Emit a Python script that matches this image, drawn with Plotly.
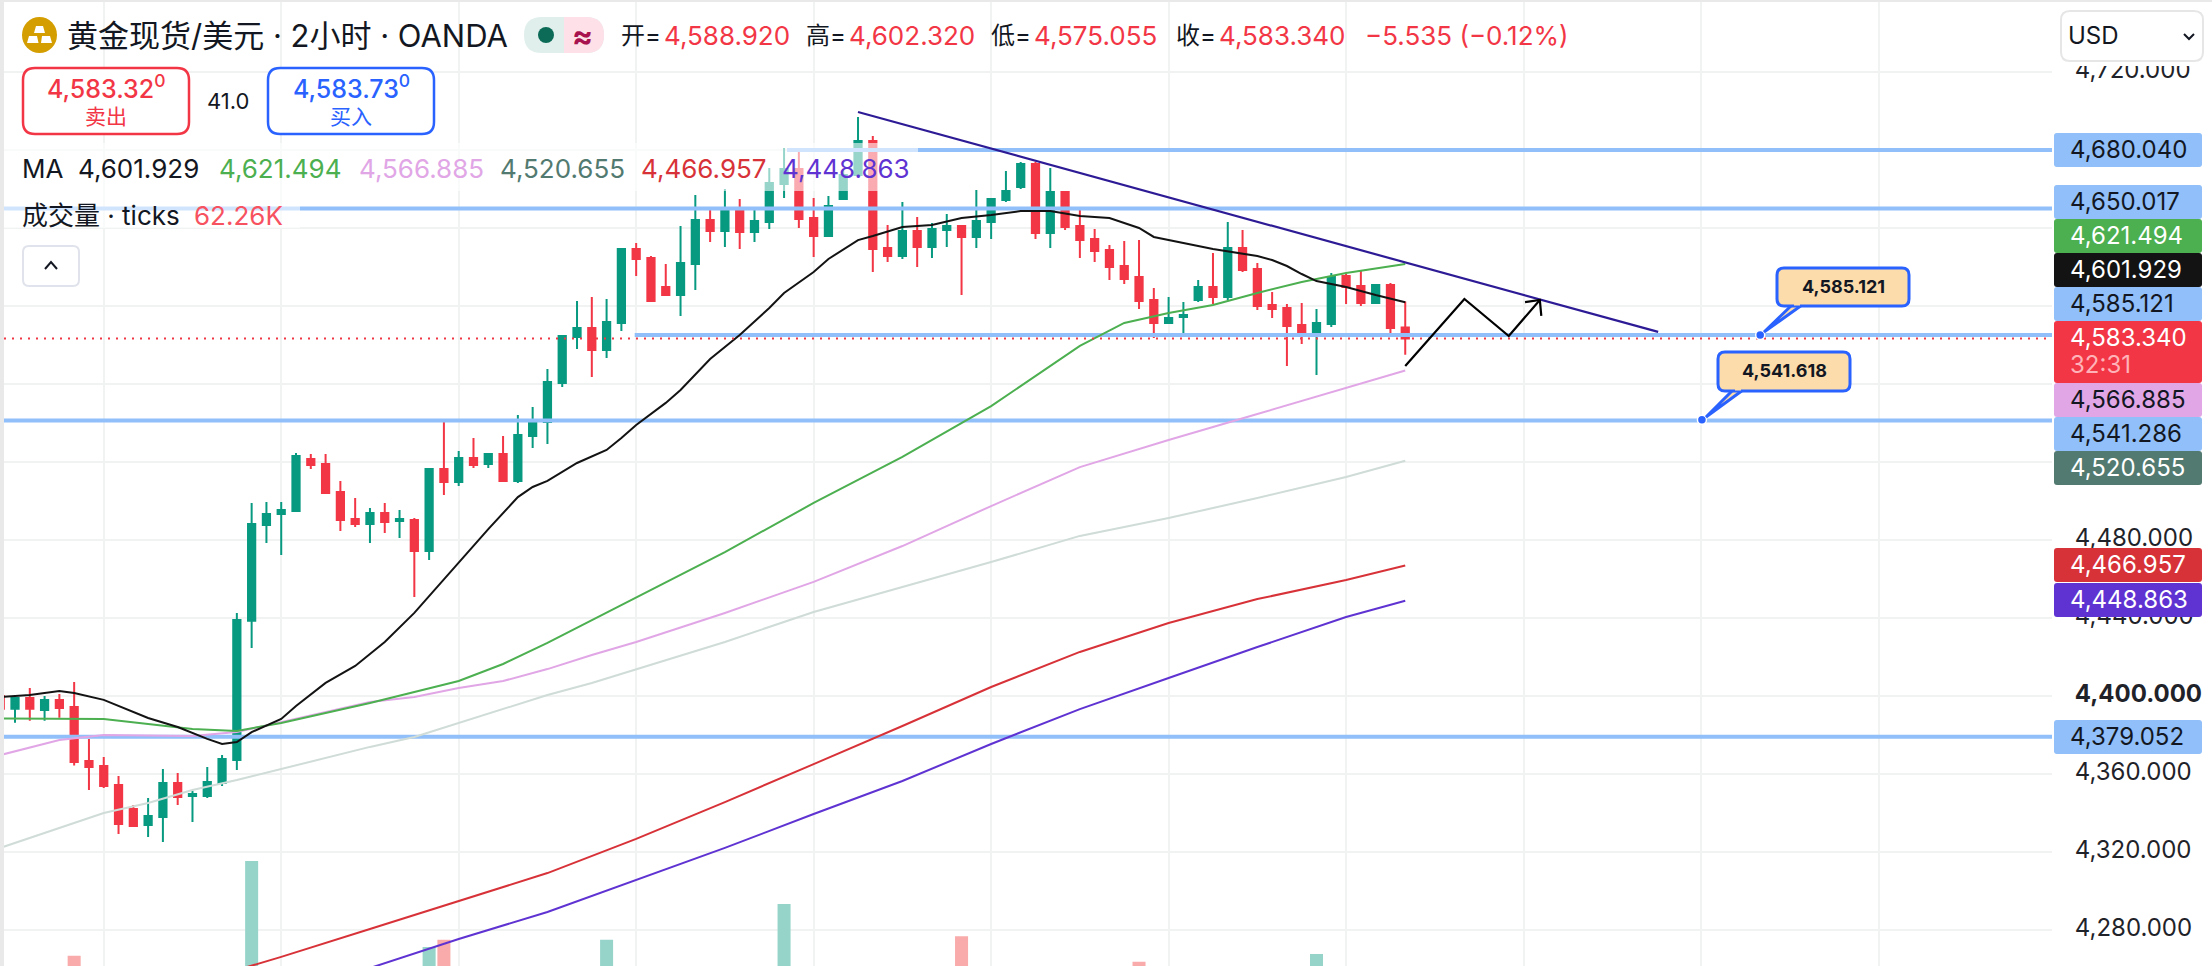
import plotly.graph_objects as go

W, H = 2212, 966

# candles, index -1 is the one clipped at the left edge
candle_idx = list(range(-1, 95))
opens = [4400.0, 4393.5, 4399.0, 4392.8, 4398.0, 4394.4, 4366.7, 4364.1, 4354.4, 4342.1, 4333.9, 4338.0,
         4355.4, 4348.7, 4348.7, 4355.4, 4367.2, 4438.6, 4487.7, 4493.3, 4494.9, 4521.5, 4519.0, 4504.6,
         4490.8, 4488.2, 4493.8, 4489.7, 4490.3, 4474.4, 4516.4, 4509.7, 4522.0, 4519.0, 4524.1, 4510.3,
         4533.3, 4540.5, 4560.5, 4584.1, 4588.7, 4577.4, 4591.3, 4629.2, 4624.6, 4609.7, 4605.6, 4621.5,
         4644.1, 4638.5, 4650.2, 4637.9, 4643.1, 4662.6, 4670.2, 4645.1, 4635.9, 4654.9, 4667.2, 4684.6,
         4629.7, 4625.6, 4638.5, 4630.3, 4639.0, 4641.0, 4635.4, 4643.1, 4654.4, 4661.0, 4672.8, 4637.4,
         4658.5, 4641.0, 4634.4, 4628.7, 4620.5, 4614.9, 4603.1, 4591.3, 4594.4, 4603.1, 4609.7, 4604.6,
         4629.7, 4619.0, 4600.5, 4599.0, 4590.3, 4585.6, 4590.8, 4615.4, 4610.3, 4601.5, 4610.8, 4588.92]
highs = [4403.0, 4400.5, 4404.1, 4400.0, 4401.0, 4407.2, 4378.0, 4368.7, 4359.0, 4344.1, 4347.7, 4362.6,
         4360.5, 4351.3, 4363.6, 4369.7, 4442.6, 4499.0, 4499.5, 4499.5, 4524.6, 4524.1, 4524.1, 4510.3,
         4501.5, 4496.4, 4499.0, 4495.4, 4491.3, 4516.4, 4541.0, 4525.6, 4532.3, 4524.6, 4533.3, 4544.1,
         4548.2, 4567.7, 4585.1, 4602.6, 4604.6, 4603.6, 4629.2, 4632.3, 4625.6, 4621.5, 4641.0, 4656.9,
         4650.2, 4660.0, 4654.9, 4650.2, 4670.8, 4681.0, 4680.0, 4655.4, 4656.4, 4669.7, 4696.9, 4687.2,
         4641.5, 4653.3, 4645.6, 4642.6, 4647.2, 4641.5, 4659.5, 4655.4, 4669.2, 4673.8, 4673.8, 4670.8,
         4659.0, 4649.7, 4639.5, 4631.3, 4633.3, 4633.8, 4609.2, 4604.6, 4602.0, 4613.3, 4627.2, 4643.1,
         4639.0, 4622.0, 4607.2, 4601.0, 4601.5, 4598.5, 4616.9, 4616.4, 4617.9, 4610.8, 4611.8, 4602.32]
lows = [4391.8, 4386.3, 4387.3, 4387.3, 4388.9, 4364.3, 4351.8, 4352.8, 4329.2, 4332.8, 4327.7, 4325.1,
        4344.1, 4335.4, 4347.7, 4353.9, 4362.1, 4424.6, 4478.5, 4472.3, 4494.9, 4516.4, 4504.1, 4484.6,
        4486.7, 4478.5, 4483.6, 4481.0, 4450.8, 4469.7, 4503.1, 4507.7, 4516.9, 4516.9, 4509.7, 4509.2,
        4527.2, 4529.2, 4558.5, 4577.9, 4563.6, 4573.3, 4587.2, 4615.4, 4602.6, 4605.6, 4594.9, 4608.2,
        4632.8, 4630.3, 4629.2, 4632.8, 4639.5, 4655.4, 4640.0, 4625.1, 4635.9, 4654.9, 4667.2, 4617.4,
        4622.6, 4624.1, 4620.0, 4624.6, 4630.3, 4605.6, 4629.7, 4634.4, 4653.3, 4660.0, 4634.4, 4629.7,
        4639.0, 4624.6, 4622.6, 4613.3, 4611.3, 4598.5, 4583.6, 4590.8, 4584.1, 4602.0, 4601.0, 4603.1,
        4617.4, 4597.9, 4593.8, 4569.2, 4580.5, 4564.6, 4589.2, 4601.0, 4600.0, 4601.0, 4586.2, 4575.055]
closes = [4393.5, 4399.0, 4393.5, 4398.0, 4393.8, 4366.2, 4363.6, 4353.9, 4334.4, 4333.3, 4338.5, 4355.4,
          4348.2, 4349.7, 4355.9, 4367.7, 4439.0, 4488.2, 4493.3, 4495.4, 4523.1, 4518.5, 4504.1, 4490.3,
          4488.2, 4493.8, 4489.2, 4490.8, 4474.4, 4516.4, 4509.7, 4522.0, 4518.5, 4524.1, 4510.3, 4533.8,
          4541.0, 4561.0, 4584.6, 4588.7, 4577.4, 4591.8, 4629.2, 4624.1, 4602.6, 4605.6, 4622.0, 4644.1,
          4638.5, 4650.2, 4637.9, 4643.6, 4663.1, 4670.2, 4644.6, 4635.9, 4651.3, 4667.2, 4684.6, 4629.2,
          4625.6, 4638.5, 4630.3, 4639.5, 4641.0, 4635.4, 4643.6, 4654.9, 4659.0, 4672.8, 4637.4, 4658.5,
          4640.5, 4633.8, 4628.2, 4620.0, 4613.8, 4602.6, 4591.3, 4593.8, 4595.4, 4609.7, 4604.6, 4629.7,
          4618.5, 4600.0, 4598.5, 4589.7, 4585.6, 4591.3, 4614.9, 4609.7, 4601.5, 4610.8, 4588.7, 4583.34]

# volume, only the bars tall enough to show above the bottom edge
vol_idx = [4, 16, 28, 29, 40, 52, 64, 76, 88]
vol_values = [141, 300, 156, 168, 168, 228, 174, 131, 144]
vol_up = [False, True, True, False, True, True, False, False, True]

# moving averages
ma1_idx = [-1, 1, 3, 4, 6, 9, 11, 13, 14, 15, 16, 18, 19, 21, 23, 25, 27, 30, 32, 34, 35, 36, 38, 40, 41, 42,
           44, 45, 47, 49, 51, 52, 54, 55, 57, 58, 60, 62, 64, 66, 68, 70, 72, 74, 76, 77, 79, 81, 84, 85, 86,
           87, 88, 90, 92, 94]
ma1 = [4399.5, 4400.5, 4402.6, 4401.5, 4398.0, 4388.7, 4384.1, 4378.0, 4375.4, 4376.4, 4381.5, 4388.2, 4394.9,
       4406.7, 4415.4, 4427.7, 4442.6, 4468.2, 4485.6, 4502.0, 4507.2, 4510.3, 4519.5, 4526.2, 4532.3, 4539.0,
       4550.3, 4556.9, 4572.8, 4585.1, 4599.0, 4606.7, 4617.4, 4624.1, 4633.8, 4635.9, 4640.5, 4641.5, 4645.1,
       4646.7, 4648.7, 4648.7, 4646.1, 4645.1, 4640.0, 4635.4, 4632.3, 4629.2, 4625.6, 4623.6, 4620.5, 4616.4,
       4612.8, 4609.7, 4605.6, 4601.929]
ma2_idx = [-1, 6, 12, 15, 18, 24, 30, 33, 36, 42, 48, 54, 60, 66, 72, 75, 78, 81, 84, 87, 90, 94]
ma2 = [4388.5, 4388.2, 4383.1, 4382.1, 4386.2, 4396.4, 4407.7, 4416.4, 4427.2, 4450.3, 4473.8, 4499.0, 4522.6,
       4548.7, 4579.5, 4591.3, 4596.4, 4600.5, 4606.7, 4612.3, 4616.9, 4621.494]
ma3_idx = [-1, 3, 6, 12, 15, 18, 24, 27, 30, 33, 36, 39, 42, 48, 54, 60, 66, 72, 78, 84, 90, 94]
ma3 = [4369.7, 4377.4, 4380.0, 4379.5, 4381.5, 4386.7, 4396.9, 4399.5, 4404.1, 4407.7, 4413.8, 4421.0, 4427.7,
       4442.6, 4458.5, 4476.9, 4497.4, 4517.4, 4531.3, 4544.6, 4557.9, 4566.885]
ma4_idx = [-1, 3, 6, 9, 12, 15, 18, 24, 27, 30, 33, 36, 39, 42, 48, 54, 60, 66, 72, 78, 84, 90, 94]
ma4 = [4322.1, 4332.3, 4340.0, 4345.1, 4351.8, 4356.9, 4362.6, 4373.9, 4379.0, 4386.2, 4393.3, 4400.5, 4406.7,
       4413.8, 4427.7, 4443.1, 4455.9, 4468.7, 4482.1, 4491.3, 4501.5, 4512.3, 4520.655]
ma5_idx = [15, 18, 24, 30, 36, 42, 48, 54, 60, 66, 72, 78, 84, 90, 94]
ma5 = [4259.5, 4266.2, 4280.5, 4294.9, 4309.2, 4326.7, 4345.6, 4365.1, 4384.6, 4404.6, 4422.6, 4437.4, 4449.7,
       4459.5, 4466.957]
ma6_idx = [24, 30, 36, 42, 48, 54, 60, 66, 72, 78, 84, 90, 94]
ma6 = [4260.5, 4275.4, 4289.2, 4305.6, 4322.1, 4339.5, 4356.4, 4375.4, 4393.3, 4409.2, 4425.1, 4440.5, 4448.863]
ma_colors = ['#131313', '#4caf50', '#e1a6e6', '#cfdcd7', '#d83239', '#5f33d2']
ma_labels = ['4,601.929', '4,621.494', '4,566.885', '4,520.655', '4,466.957', '4,448.863']
ma_text_colors = ['#131722', '#4caf50', '#e1a6e6', '#527a70', '#d83239', '#5f33d2']

# drawings
hline_prices = [4680.04, 4650.017, 4585.121, 4541.286, 4379.052]
hline_starts = [52.2, -2, 41.9, -2, -2]
trend_idx = [57, 111.1]
trend_prices = [4699.5, 4586.7]
path_idx = [94, 98, 101, 103.1]
path_prices = [4569.2, 4603.6, 4584.6, 4603.1]
arrow_idx = [102.1, 103.1, 103.2]
arrow_prices = [4602.0, 4603.1, 4594.9]
callout_idx = [118, 114.06]
callout_prices = [4585.121, 4541.618]
last_price = 4583.34

# gridlines at 4,520 to 4,680 have their labels hidden behind the price tags
price_ticks = [4280, 4320, 4360, 4400, 4440, 4480, 4520, 4560, 4600, 4640, 4680, 4720]
price_tick_text = ['4,280.000', '4,320.000', '4,360.000', '<b>4,400.000</b>', '4,440.000', '4,480.000',
                   '', '', '', '', '', '4,720.000']

# right hand price tags
tag_text = ['4,680.040', '4,650.017', '4,621.494', '4,601.929', '4,585.121', '4,583.340', '4,566.885',
            '4,541.286', '4,520.655', '4,466.957', '4,448.863', '4,379.052']
tag_tops = [133, 185, 219, 253, 287, 321, 383, 417, 451, 548, 583, 720]
tag_fill = ['#90bff9', '#90bff9', '#4caf50', '#131313', '#90bff9', '#f23645', '#e1a6e6', '#90bff9', '#527a70',
            '#d83239', '#5f33d2', '#90bff9']
tag_font = ['#131722', '#131722', '#ffffff', '#ffffff', '#131722', '#ffffff', '#131722', '#131722', '#ffffff',
            '#ffffff', '#ffffff', '#131722']

GREEN = '#089981'
RED = '#f23645'
BLUE = '#2962ff'
LINE_BLUE = '#90bff9'
TEXT = '#131722'
LATIN = 'Inter'
MIXED = 'Inter, "Noto Sans CJK SC"'

LEFT_EDGE = -0.744
RIGHT_EDGE = 137.73


def fx(px):
    return px / W


def fy(py):
    return 1 - py / H


def rrect(x0, y0, x1, y1, r):
    return (f"M {fx(x0 + r)} {fy(y0)} L {fx(x1 - r)} {fy(y0)} Q {fx(x1)} {fy(y0)} {fx(x1)} {fy(y0 + r)} "
            f"L {fx(x1)} {fy(y1 - r)} Q {fx(x1)} {fy(y1)} {fx(x1 - r)} {fy(y1)} "
            f"L {fx(x0 + r)} {fy(y1)} Q {fx(x0)} {fy(y1)} {fx(x0)} {fy(y1 - r)} "
            f"L {fx(x0)} {fy(y0 + r)} Q {fx(x0)} {fy(y0)} {fx(x0 + r)} {fy(y0)} Z")


def poly(points, close=True):
    s = ' L '.join(f"{fx(a)} {fy(b)}" for a, b in points)
    return f"M {s}" + (' Z' if close else '')


shapes = []
notes = []


def box(x0, y0, x1, y1, fill, line='rgba(0,0,0,0)', width=0, r=0):
    shapes.append(dict(type='path', xref='paper', yref='paper', layer='above',
                       path=rrect(x0, y0, x1, y1, r), fillcolor=fill, line=dict(color=line, width=width)))


def stroke(points, color, width=2, fill=None):
    shapes.append(dict(type='path', xref='paper', yref='paper', layer='above',
                       path=poly(points, close=fill is not None), fillcolor=fill or 'rgba(0,0,0,0)',
                       line=dict(color=color, width=width)))


def note(x, y, text, size=26, color=TEXT, family=LATIN, anchor='left', weight=400):
    # annotations sit a couple of pixels right of their anchor
    if anchor == 'left':
        x -= 2
    notes.append(dict(xref='paper', yref='paper', x=fx(x), y=fy(y), text=text, showarrow=False,
                      xanchor=anchor, yanchor='middle', borderpad=0,
                      font=dict(size=size, color=color, family=family, weight=weight)))


fig = go.Figure()

fig.add_trace(go.Bar(x=vol_idx, y=vol_values, width=0.88, yaxis='y', hoverinfo='skip',
                     marker=dict(color=['#96d4ca' if u else '#f9aaaa' for u in vol_up], line=dict(width=0))))

for i, start in enumerate(hline_starts):
    fig.add_trace(go.Scatter(x=[start, RIGHT_EDGE + 1], y=[hline_prices[i]] * 2, yaxis='y2', mode='lines',
                             line=dict(color=LINE_BLUE, width=4), hoverinfo='skip'))

fig.add_trace(go.Candlestick(x=candle_idx, open=opens, high=highs, low=lows, close=closes, yaxis='y2',
                             increasing=dict(line=dict(color=GREEN, width=2), fillcolor=GREEN),
                             decreasing=dict(line=dict(color=RED, width=2), fillcolor=RED),
                             whiskerwidth=0))

ma_x = [ma4_idx, ma3_idx, ma2_idx, ma5_idx, ma6_idx, ma1_idx]
ma_y = [ma4, ma3, ma2, ma5, ma6, ma1]
ma_c = [ma_colors[3], ma_colors[2], ma_colors[1], ma_colors[4], ma_colors[5], ma_colors[0]]
for xs, ys, c in zip(ma_x, ma_y, ma_c):
    fig.add_trace(go.Scatter(x=xs, y=ys, yaxis='y2', mode='lines', line=dict(color=c, width=2),
                             hoverinfo='skip'))

fig.add_trace(go.Scatter(x=[LEFT_EDGE, RIGHT_EDGE], y=[last_price] * 2, yaxis='y2', mode='lines',
                         line=dict(color=RED, width=2, dash='2px,6px'), hoverinfo='skip'))
fig.add_trace(go.Scatter(x=trend_idx, y=trend_prices, yaxis='y2', mode='lines',
                         line=dict(color='#2d1b96', width=2.2), hoverinfo='skip'))
fig.add_trace(go.Scatter(x=path_idx, y=path_prices, yaxis='y2', mode='lines',
                         line=dict(color='#000000', width=2.2), hoverinfo='skip'))
fig.add_trace(go.Scatter(x=arrow_idx, y=arrow_prices, yaxis='y2', mode='lines',
                         line=dict(color='#000000', width=2.2), hoverinfo='skip'))
fig.add_trace(go.Scatter(x=callout_idx, y=callout_prices, yaxis='y2', mode='markers', hoverinfo='skip',
                         marker=dict(size=9, color=BLUE, line=dict(color='#ffffff', width=1.5))))

# washed out strips behind the legend rows
box(4, 143, 918, 191, 'rgba(255,255,255,0.58)')
box(4, 191, 300, 228, 'rgba(255,255,255,0.58)')

# page frame
box(0, 0, 4, H, '#e9e9e9')
box(0, 0, W, 2, '#e9e9e9')

# header
shapes.append(dict(type='circle', xref='paper', yref='paper', layer='above', x0=fx(22), x1=fx(57), y0=fy(53),
                   y1=fy(17), fillcolor='#d49e00', line=dict(width=0)))
stroke([(36, 26), (43, 26), (45, 33), (34, 33)], '#ffffff', 0, '#ffffff')
stroke([(29, 36), (37, 36), (38.5, 43), (27, 43)], '#ffffff', 0, '#ffffff')
stroke([(42, 36), (50, 36), (52, 43), (41, 43)], '#ffffff', 0, '#ffffff')
note(68, 35, '黄金现货/美元 · 2小时 · OANDA', size=31, family=MIXED)
box(524, 17, 604, 53, '#e0efec', r=18)
box(564, 17, 604, 53, '#fde0e8', r=18)
box(564, 17, 584, 53, '#fde0e8')
shapes.append(dict(type='circle', xref='paper', yref='paper', layer='above', x0=fx(538), x1=fx(554), y0=fy(43),
                   y1=fy(27), fillcolor='#0b6b57', line=dict(width=0)))
note(582, 35, '<b>≈</b>', size=31, color='#a8134f', anchor='center')

ohlc_labels = ['开=', '高=', '低=', '收=']
ohlc_values = ['4,588.920', '4,602.320', '4,575.055', '4,583.340']
ohlc_x = [622, 807, 992, 1177]
for lab, val, x in zip(ohlc_labels, ohlc_values, ohlc_x):
    note(x, 36, lab, size=24, family=MIXED)
    note(x + 43, 36, val, size=26, color=RED)
note(1366, 36, '−5.535 (−0.12%)', size=26, color=RED)

# sell / buy buttons
box(23, 68, 189, 134, '#ffffff', RED, 2.5, 12)
box(268, 68, 434, 134, '#ffffff', BLUE, 2.5, 12)
note(106, 87, '4,583.32<sup>0</sup>', size=25, color=RED, anchor='center', weight=500)
note(106, 116, '卖出', size=21, color=RED, family=MIXED, anchor='center')
note(351, 87, '4,583.73<sup>0</sup>', size=25, color=BLUE, anchor='center', weight=500)
note(351, 116, '买入', size=21, color=BLUE, family=MIXED, anchor='center')
note(228, 101, '41.0', size=22, anchor='center')

# legend rows
note(23, 168, 'MA', size=26)
ma_label_x = [79, 220, 360, 501, 642, 783]
for x, t, c in zip(ma_label_x, ma_labels, ma_text_colors):
    note(x, 168, t, size=26, color=c)
note(23, 216, '成交量 · ticks', size=26, family=MIXED)
note(195, 216, '62.26K', size=26, color='#f7525f')
box(23, 246, 79, 286, '#ffffff', '#e0e3eb', 2, 6)
stroke([(45, 269), (51, 262), (57, 269)], '#131722', 2)

# USD selector, the white strip below it cuts the 4,720 label as on the original
box(2054, 61, 2210, 66, '#ffffff')
box(2061, 11, 2203, 61, '#ffffff', '#e6e6e6', 2, 9)
note(2069, 36, 'USD', size=24)
stroke([(2184, 34), (2189, 39), (2194, 34)], '#131722', 2)

# price tags
for t, top, fill, font in zip(tag_text, tag_tops, tag_fill, tag_font):
    bottom = top + (62 if t == '4,583.340' else 34)
    box(2054, top, 2202, bottom, fill, r=3)
    note(2071, top + 16, t, size=24, color=font)
note(2071, 364, '32:31', size=24, color='#ffb3b8')

# callouts
callouts = [(1777, 268, 1909, 306, 1760, 335, '4,585.121'), (1718, 352, 1850, 391, 1702, 420, '4,541.618')]
for x0, y0, x1, y1, tipx, tipy, label in callouts:
    stroke([(x0 + 15, y1 - 1), (x0 + 25, y1 - 1), (tipx + 4, tipy - 3)], BLUE, 3, '#fddcab')
    box(x0, y0, x1, y1, '#fddcab', BLUE, 3, 7)
    stroke([(x0 + 17, y1 - 2), (x0 + 23, y1 - 2)], '#fddcab', 3)
    note((x0 + x1) / 2, (y0 + y1) / 2 - 1, f'<b>{label}</b>', size=18, color='#131722', anchor='center')

fig.update_layout(
    width=W, height=H, margin=dict(l=0, r=0, t=0, b=0), autosize=False,
    paper_bgcolor='#ffffff', plot_bgcolor='#ffffff', showlegend=False, hovermode=False,
    font=dict(family=LATIN), shapes=shapes, annotations=notes,
    xaxis=dict(domain=[4 / W, 2052 / W], range=[LEFT_EDGE, RIGHT_EDGE], rangeslider=dict(visible=False),
               tick0=6, dtick=12, showgrid=True, gridcolor='#f1f2f2', gridwidth=1.5, showticklabels=False,
               zeroline=False, showline=False, ticks=''),
    yaxis=dict(range=[124, 1743], showgrid=False, showticklabels=False, zeroline=False, showline=False),
    yaxis2=dict(overlaying='y', anchor='x', side='right', range=[4261.54, 4756.92], tickmode='array',
                tickvals=price_ticks, ticktext=price_tick_text, showgrid=True, gridcolor='#f1f2f2', gridwidth=1.5,
                zeroline=False, showline=False, ticks='outside', ticklen=17, tickcolor='#ffffff', tickwidth=1,
                ticklabelshift=-2, tickfont=dict(family=LATIN, size=24, color='#1f2329')),
)

fig.write_html("out.html", config=dict(displayModeBar=False),
               post_script="document.body.style.margin='0';document.body.style.overflow='hidden';")
